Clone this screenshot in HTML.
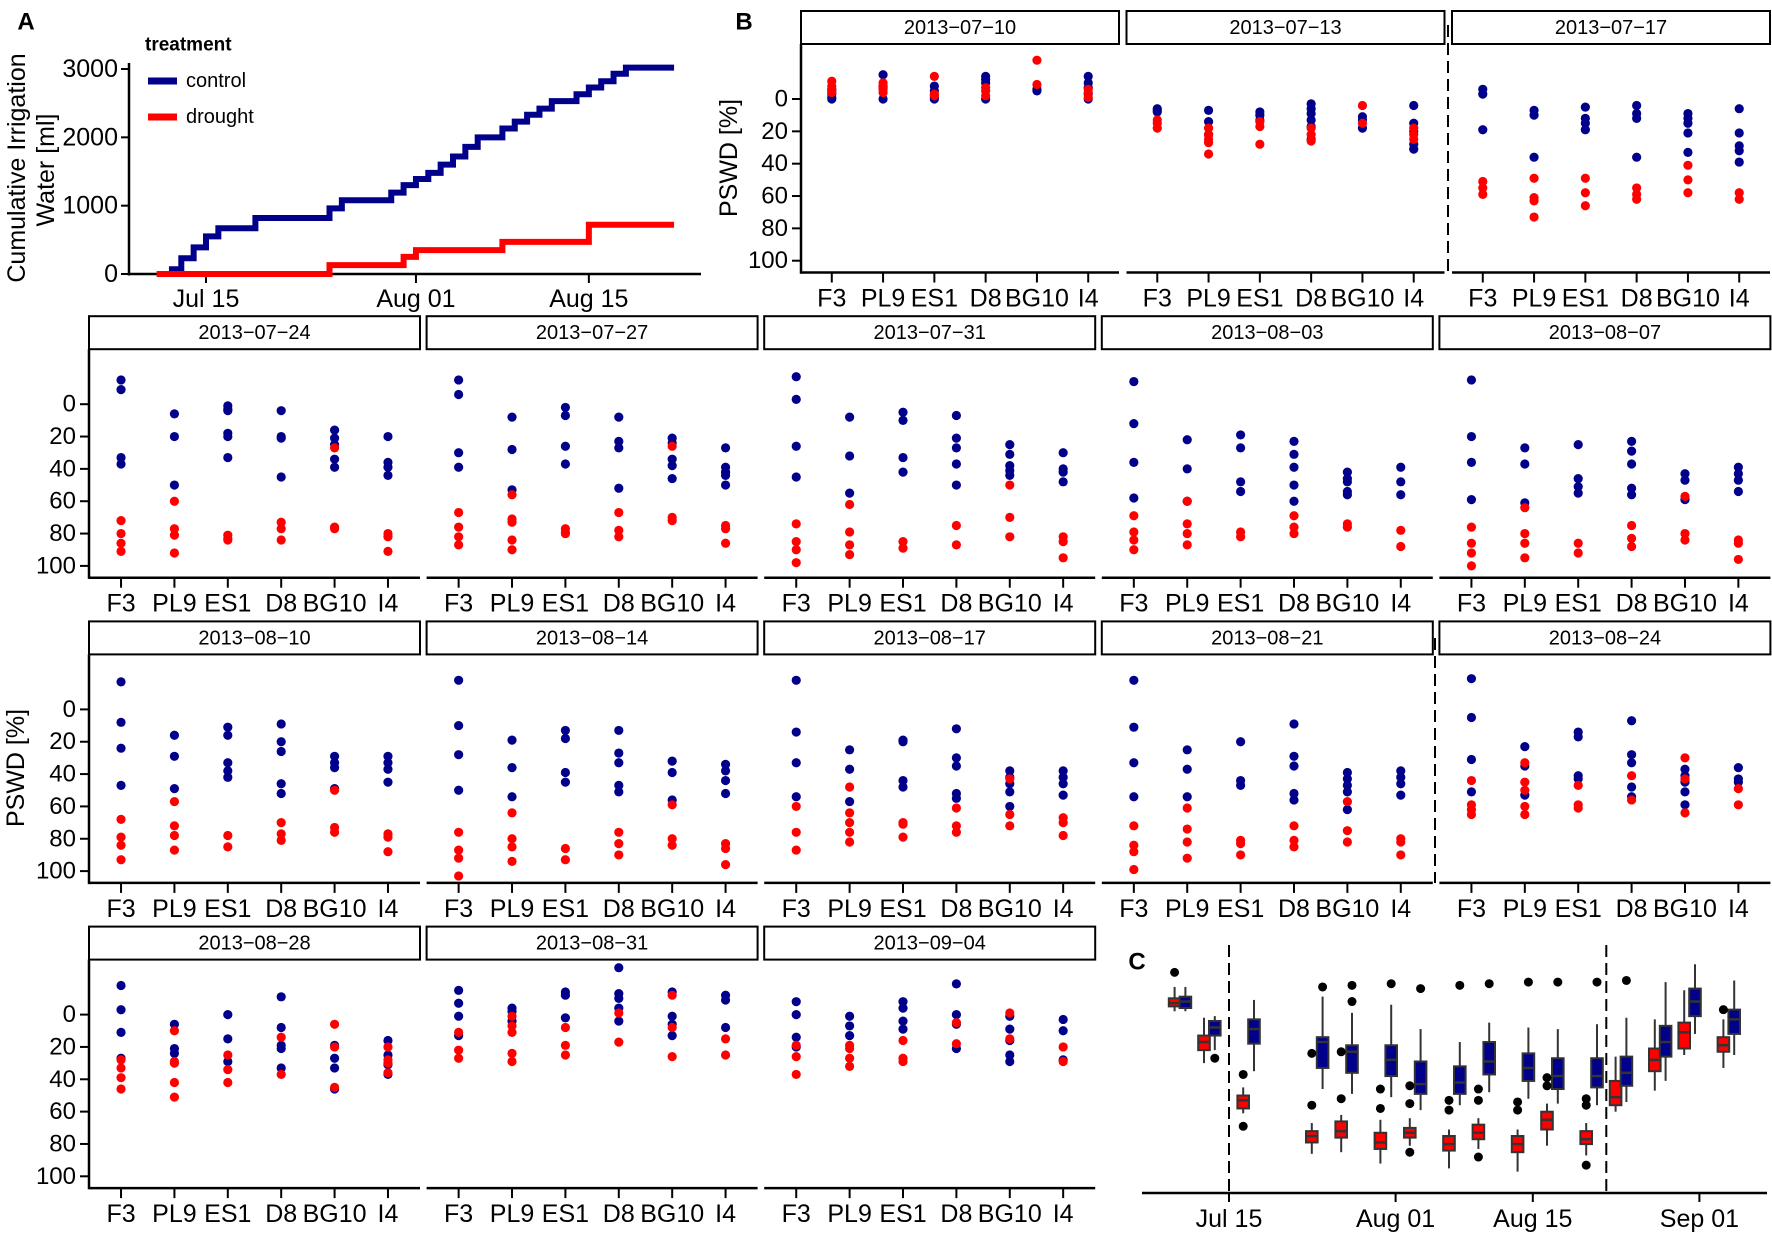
<!DOCTYPE html>
<html><head><meta charset="utf-8"><title>PSWD figure</title>
<style>
html,body{margin:0;padding:0;background:#fff;}
svg{display:block;font-family:"Liberation Sans",Arial,sans-serif;}
</style></head>
<body>
<svg id="fig" width="1772" height="1237" viewBox="0 0 1772 1237" xmlns="http://www.w3.org/2000/svg"></svg>
<script>
// ---------- Panel A data ----------
const ctrlDays = [-3,-2,-1,0,1,4,10,11,15,16,17,18,19,20,21,22,24,25,26,27,28,30,31,32,33,34];
const ctrlVals = [70,230,390,550,670,820,960,1080,1190,1300,1390,1480,1600,1720,1860,2000,2130,2230,2330,2420,2530,2630,2730,2820,2930,3020];
const drDays = [-4,10,16,17,24,31];
const drVals = [0,130,250,350,470,720];
const aEndDay = 37.9;
const aYTicks = [0,1000,2000,3000];
const aXTickDays = [0,17,31];
const aXTickLabels = ['Jul 15','Aug 01','Aug 15'];

// ---------- Panel B data ----------
const genotypes = ['F3','PL9','ES1','D8','BG10','I4'];
const panelDates = ['2013-07-10','2013-07-13','2013-07-17','2013-07-24','2013-07-27','2013-07-31','2013-08-03','2013-08-07','2013-08-10','2013-08-14','2013-08-17','2013-08-21','2013-08-24','2013-08-28','2013-08-31','2013-09-04'];
const pswdTicks = [0,20,40,60,80,100];
const controlPSWD = [
 [[-5,-3,-1,0,-6],[-15,0,-8],[-8,-5,0,-1],[-14,-12,-10,0],[-6,-5],[-14,-10,-7,-3,0]],
 [[7,8,6],[7,14,22],[8,10,13],[3,6,9,13,17,25],[11,13,18],[4,15,20,28,31]],
 [[-6,-3,19],[7,10,36],[5,12,15,19],[4,9,12,36],[9,12,15,21,33],[6,21,29,32,39]],
 [[-15,-9,33,37],[6,20,50],[1,3,4,18,20,33],[4,20,21,45],[16,21,25,34,39],[20,36,39,44]],
 [[-15,-6,30,39],[8,28,53],[2,7,26,37],[8,23,27,52],[21,24,34,38,46],[27,39,42,44,50]],
 [[-17,-3,26,45],[8,32,55],[5,10,33,42],[7,21,27,37,50],[25,31,38,41,44],[30,40,42,48]],
 [[-14,12,36,58],[22,40,60],[19,27,48,54],[23,31,39,50,60],[42,46,48,54,56],[39,48,56]],
 [[-15,20,36,59],[27,37,61],[25,46,51,55],[23,29,37,52,56],[43,47,59],[39,43,47,54]],
 [[-17,8,24,47],[16,29,49],[11,16,33,38,42],[9,20,26,46,52],[29,33,36,49],[29,33,37,45]],
 [[-18,10,28,50],[19,36,54],[13,18,39,45],[13,27,33,47,51],[32,39,56],[34,38,44,52]],
 [[-18,14,33,54],[25,37,57],[19,20,44,48],[12,30,35,52,55],[38,42,46,51,60],[38,42,46,53]],
 [[-18,11,33,54],[25,37,54],[20,44,47],[9,29,35,52,56],[39,43,47,51,62],[38,42,46,53]],
 [[-19,5,31,51],[23,35,53],[14,17,41,43],[7,28,33,48,54],[37,41,45,51,59],[36,43,45]],
 [[-18,-3,11,27],[6,21,24],[0,15,29],[-11,8,19,21,33],[19,27,33,46],[16,25,31,37]],
 [[-15,-7,1,13],[-4,-2,4],[-14,-12,2],[-29,-13,-10,-4,4],[-14,1,6,13],[-12,-9,8]],
 [[-8,0,14,20],[1,7,13],[-8,-4,4,9],[-19,0,6,21],[1,9,16,25,29],[3,10,28]]
];
const droughtPSWD = [
 [[-11,-8,-6,-4],[-10,-8,-6,-4,-7],[-14,-3,-2],[-7,-5,-2],[-24,-9],[-6,-4,-1]],
 [[13,15,18],[18,22,25,27,34],[14,17,28],[18,22,26],[4,15],[18,22,25]],
 [[51,55,59],[49,61,63,73],[49,58,66],[55,59,62],[41,50,58],[58,62]],
 [[72,80,86,91],[60,77,81,92],[81,83,84],[73,77,84],[27,76,77],[80,82,91]],
 [[67,76,82,87],[56,71,73,84,90],[77,79,80],[67,78,82],[26,70,72],[75,77,86]],
 [[74,85,90,98],[62,79,87,93],[85,89],[75,87],[50,70,82],[82,85,95]],
 [[69,79,84,90],[60,74,80,87],[79,82],[69,76,80],[74,76],[78,88]],
 [[76,86,92,100],[64,80,86,95],[86,92],[75,83,88],[57,80,84],[84,86,96]],
 [[68,79,84,93],[57,72,78,87],[78,85],[70,77,81],[50,73,76],[77,79,88]],
 [[76,87,92,103],[64,80,85,94],[86,93],[76,83,90],[59,80,84],[83,86,96]],
 [[60,76,87],[48,64,70,76,82],[70,71,79],[61,72,76],[43,65,72],[67,70,78]],
 [[72,84,88,99],[61,74,82,92],[81,83,90],[72,81,85],[57,75,82],[80,82,90]],
 [[44,59,62,65],[33,45,50,60,65],[47,59,61],[41,56],[30,43,64],[49,59]],
 [[28,33,39,46],[10,29,30,42,51],[25,34,42],[14,37],[6,20,45],[20,28,30,36]],
 [[11,22,27],[1,7,11,24,29],[8,19,25],[-1,17],[-12,8,26],[15,25]],
 [[19,26,37],[19,21,27,32],[16,27,29],[5,18],[-1,15],[20,29]]
];

// ---------- Panel C data ----------
const boxDays = [-5,-2,2,9,12,16,19,23,26,30,33,37,40,44,47,51];
const droughtBoxes = [
 [-17,-10,-7,-5,-2],[2,13,17,22,30],[45,50,53,58,61],[67,72,75,79,86],[62,66,72,76,85],[65,73,79,83,92],
 [64,70,73,76,81],[71,75,80,84,95],[64,68,73,77,83],[71,75,80,85,97],[55,60,65,71,81],[67,72,77,80,87],
 [26,41,51,56,60],[3,21,28,35,47],[-15,5,11,21,25],[3,14,19,23,33]];
const controlBoxes = [
 [-17,-11,-8,-4,-2],[1,4,8,13,22],[-9,3,9,18,35],[-11,14,17,33,46],[-1,19,23,36,49],[-6,19,28,38,51],
 [9,29,43,49,59],[17,32,42,49,56],[5,17,29,37,48],[8,24,33,41,52],[9,27,38,46,55],[6,27,38,45,56],
 [2,26,36,44,54],[-20,7,17,26,41],[-31,-16,-8,1,12],[-21,-3,3,12,25]];
const droughtOutliers = [[-26],[],[37,69],[24,56],[23,52],[46,58],[44,55,85],[53,59],[46,53,88],[54,59],[39,44],[52,56,93],[],[],[],[-3]];
const controlOutliers = [[],[27],[],[-17],[-18,-8],[-19],[-16],[-18],[-19],[-20],[-20],[-20],[-21],[],[],[]];
const cTickDays = [0,17,31,48];
const cTickLabels = ['Jul 15','Aug 01','Aug 15','Sep 01'];
const cDashDays = [0,38.5];

const RED = '#ff0000', BLUE = '#00008b';
const svg = document.getElementById('fig');
const NS = 'http://www.w3.org/2000/svg';
function mk(tag, attrs, parent) {
  const e = document.createElementNS(NS, tag);
  for (const k in attrs) e.setAttribute(k, attrs[k]);
  (parent || svg).appendChild(e);
  return e;
}
function txt(x, y, s, size, anchor, parent, extra) {
  const t = mk('text', Object.assign({x: x, y: y, 'font-size': size, 'text-anchor': anchor || 'middle', 'dominant-baseline': 'central', fill: '#000'}, extra || {}), parent);
  t.textContent = s;
  return t;
}

// ---------- Panel A ----------
const gA = mk('g', {});


const aX = d => 206 + d * 12.35;
const aY = v => 274 - v * 0.06833;
let lbl = txt(26, 22, 'A', 24, 'middle', gA, {'font-weight': 'bold'});


let ax = mk('line', {x1: 129, y1: 63, x2: 129, y2: 275.5, stroke: '#000', 'stroke-width': 2.5}, gA);


ax = mk('line', {x1: 127.5, y1: 274, x2: 701, y2: 274, stroke: '#000', 'stroke-width': 2.5}, gA);


aYTicks.forEach(v => {
  const tk = mk('line', {x1: 121, y1: aY(v), x2: 129, y2: aY(v), stroke: '#000', 'stroke-width': 2}, gA);
  
  
  const t = txt(118, aY(v), String(v), 25, 'end', gA);
  
  
});
aXTickDays.forEach((d, i) => {
  const tk = mk('line', {x1: aX(d), y1: 274, x2: aX(d), y2: 283, stroke: '#000', 'stroke-width': 2}, gA);
  
  
  const t = txt(aX(d), 299, aXTickLabels[i], 25, 'middle', gA);
  
  
});
let yt = txt(0, 0, 'Cumulative Irrigation', 25, 'middle', gA, {transform: 'translate(17,168) rotate(-90)'});


yt = txt(0, 0, 'Water [ml]', 25, 'middle', gA, {transform: 'translate(46,170) rotate(-90)'});


function stepPath(days, vals) {
  let d = 'M' + aX(days[0]) + ' ' + aY(vals[0]);
  for (let i = 1; i < days.length; i++) {
    d += ' H' + aX(days[i]) + ' V' + aY(vals[i]);
  }
  d += ' H' + aX(aEndDay);
  return d;
}
let ln = mk('path', {d: stepPath(ctrlDays, ctrlVals), fill: 'none', stroke: BLUE, 'stroke-width': 6}, gA);


ln = mk('path', {d: stepPath(drDays, drVals), fill: 'none', stroke: RED, 'stroke-width': 6}, gA);


// legend
const lg = mk('g', {}, gA);


let lt = txt(145, 45, 'treatment', 19, 'start', lg, {'font-weight': 'bold'});


[['control', BLUE, 81], ['drought', RED, 117]].forEach(([name, col, y]) => {
  const l = mk('line', {x1: 148, y1: y, x2: 177, y2: y, stroke: col, 'stroke-width': 7}, lg);
  
  
  const t = txt(186, y, name, 20, 'start', lg);
  
  
});

// ---------- Panel B ----------
function panelGeom(p) {
  if (p < 3) return {row: 0, left: 801 + p * 325.5, w: 318, col: p};
  const q = p - 3;
  return {row: 1 + Math.floor(q / 5), left: 89 + (q % 5) * 337.6, w: 331, col: q % 5};
}
const stripTop = r => 11 + r * 305.2;
const yPS = (r, v) => stripTop(r) + 88 + v * 1.617;
const xG = (g, k) => g.left + g.w * (0.6 + k) / 6.2;
const gB = mk('g', {});


lbl = txt(744, 22, 'B', 24, 'middle', gB, {'font-weight': 'bold'});


panelDates.forEach((date, p) => {
  const g = panelGeom(p);
  const st = stripTop(g.row);
  const axY = st + 261.5;
  const pg = mk('g', {}, gB);
  
  
  const sb = mk('rect', {x: g.left, y: st, width: g.w, height: 33, fill: '#fff', stroke: '#000', 'stroke-width': 2}, pg);
  
  
  const stt = txt(g.left + g.w / 2, st + 17, date.replace(/-/g, '\u2212'), 20, 'middle', pg);
  
  
  const bx = mk('line', {x1: g.left, y1: axY, x2: g.left + g.w, y2: axY, stroke: '#000', 'stroke-width': 2.5}, pg);
  
  
  genotypes.forEach((gn, k) => {
    const x = xG(g, k);
    const tk = mk('line', {x1: x, y1: axY, x2: x, y2: axY + 10, stroke: '#000', 'stroke-width': 2}, pg);
    
    
    const tl = txt(x, axY + 26, gn, 25, 'middle', pg);
    
    
  });
  if (g.col === 0) {
    const yl = mk('line', {x1: g.left, y1: st + 33, x2: g.left, y2: axY + 1.2, stroke: '#000', 'stroke-width': 2.5}, pg);
    
    
    pswdTicks.forEach(v => {
      const y = yPS(g.row, v);
      const tk = mk('line', {x1: g.left - 9, y1: y, x2: g.left, y2: y, stroke: '#000', 'stroke-width': 2}, pg);
      
      
      const tl = txt(g.left - 13, y, String(v), 24, 'end', pg);
      
      
    });
  }
  controlPSWD[p].forEach((vals, k) => vals.forEach(v => {
    const c = mk('circle', {cx: xG(g, k), cy: yPS(g.row, v), r: 4.6, fill: BLUE}, pg);
    
    
  }));
  droughtPSWD[p].forEach((vals, k) => vals.forEach(v => {
    const c = mk('circle', {cx: xG(g, k), cy: yPS(g.row, v), r: 4.6, fill: RED}, pg);
    
    
  }));
});
let yti = txt(0, 0, 'PSWD [%]', 25, 'middle', gB, {transform: 'translate(729,158) rotate(-90)'});


yti = txt(0, 0, 'PSWD [%]', 25, 'middle', gB, {transform: 'translate(16,768) rotate(-90)'});


let dl = mk('line', {x1: 1448, y1: 25, x2: 1448, y2: 272, stroke: '#000', 'stroke-width': 2, 'stroke-dasharray': '12,6'}, gB);


dl = mk('line', {x1: 1435, y1: 638, x2: 1435, y2: 883, stroke: '#000', 'stroke-width': 2, 'stroke-dasharray': '12,6'}, gB);



// ---------- Panel C ----------
const gC = mk('g', {});


const cX = d => 1229 + d * 9.8;
const cY = v => 1014.5 + v * 1.62;
lbl = txt(1137, 962, 'C', 24, 'middle', gC, {'font-weight': 'bold'});


cDashDays.forEach(d => {
  const l = mk('line', {x1: cX(d), y1: 945, x2: cX(d), y2: 1193, stroke: '#000', 'stroke-width': 2, 'stroke-dasharray': '12,6'}, gC);
  
  
});
ax = mk('line', {x1: 1142, y1: 1193, x2: 1767, y2: 1193, stroke: '#000', 'stroke-width': 2.5}, gC);


cTickDays.forEach((d, i) => {
  const tk = mk('line', {x1: cX(d), y1: 1193, x2: cX(d), y2: 1202, stroke: '#000', 'stroke-width': 2}, gC);
  
  
  const t = txt(cX(d), 1219, cTickLabels[i], 25, 'middle', gC);
  
  
});
function drawBox(xc, s, fill, name) {
  const bg = mk('g', {}, gC);
  
  
  const w = mk('line', {x1: xc, y1: cY(s[0]), x2: xc, y2: cY(s[4]), stroke: '#333', 'stroke-width': 2}, bg);
  
  
  const r = mk('rect', {x: xc - 5.8, y: cY(s[1]), width: 11.6, height: cY(s[3]) - cY(s[1]), fill: fill, stroke: '#333', 'stroke-width': 2}, bg);
  
  
  const m = mk('line', {x1: xc - 5.8, y1: cY(s[2]), x2: xc + 5.8, y2: cY(s[2]), stroke: '#333', 'stroke-width': 2.5}, bg);
  
  
}
boxDays.forEach((d, i) => {
  const xr = cX(d) - 5.4, xb = cX(d) + 5.4;
  drawBox(xr, droughtBoxes[i], RED, 'drought-box');
  drawBox(xb, controlBoxes[i], BLUE, 'control-box');
  droughtOutliers[i].forEach(v => {
    const c = mk('circle', {cx: xr, cy: cY(v), r: 4.5, fill: '#000'}, gC);
    
    
  });
  controlOutliers[i].forEach(v => {
    const c = mk('circle', {cx: xb, cy: cY(v), r: 4.5, fill: '#000'}, gC);
    
    
  });
});
</script>
</body></html>
